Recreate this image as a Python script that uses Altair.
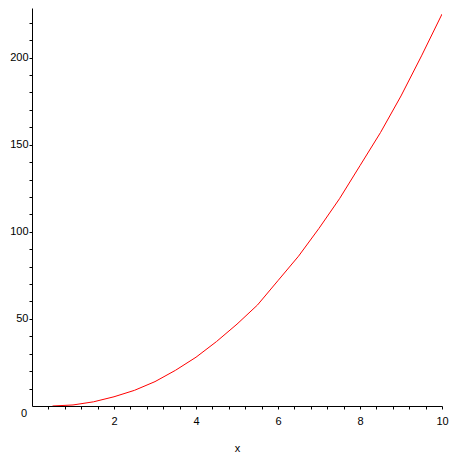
import altair as alt
import pandas as pd

# curve values
xs = [0.5, 1.0, 1.5, 2.0, 2.5, 3.0, 3.5, 4.0, 4.5, 5.0, 5.5, 6.0, 6.5, 7.0, 7.5, 8.0, 8.5, 9.0, 9.5, 10.0]
ys = [0.0, 0.6, 2.4, 5.3, 9.0, 14.0, 20.5, 28.0, 37.0, 47.0, 58.0, 72.0, 86.0, 102.0, 119.0, 138.0, 157.0, 178.0, 201.0, 225.0]

x_ticks = [round(i * 0.4, 1) for i in range(1, 26)]
y_ticks = list(range(10, 230, 10))
origin_label = ["0"]

df = pd.DataFrame({"x": xs, "y": ys})
df0 = pd.DataFrame({"x": [0.0], "y": [0.0], "t": origin_label})

FONT = "Liberation Sans"

xscale = alt.Scale(domain=[0, 10], nice=False, zero=False)
yscale = alt.Scale(domain=[0, 228.5], nice=False, zero=False)

line = alt.Chart(df).mark_line(color="#ff0000", strokeWidth=1, clip=True).encode(
    x=alt.X("x:Q", scale=xscale, title="x",
            axis=alt.Axis(values=x_ticks, tickCount=200,
                          labelExpr="abs(datum.value - round(datum.value/2)*2) < 0.01 ? format(datum.value, 'd') : ''",
                          grid=False, tickSize=3, labelPadding=6, titlePadding=16,
                          labelFontSize=11, titleFontSize=11, titleFontWeight="normal",
                          labelFont=FONT, titleFont=FONT, labelColor="black", titleColor="black",
                          domainColor="black", tickColor="black", labelFlush=False,
                          labelOverlap=False)),
    y=alt.Y("y:Q", scale=yscale, title=None,
            axis=alt.Axis(values=y_ticks, tickCount=200,
                          labelExpr="datum.value % 50 == 0 ? format(datum.value, 'd') : ''",
                          grid=False, tickSize=3, labelPadding=1,
                          labelFontSize=11, labelFont=FONT, labelColor="black",
                          domainColor="black", tickColor="black", labelFlush=False,
                          labelOverlap=False)),
)

zero = alt.Chart(df0).mark_text(dx=-8, dy=8, fontSize=11, font=FONT, color="black",
                                align="center", baseline="middle").encode(
    x=alt.X("x:Q", scale=xscale),
    y=alt.Y("y:Q", scale=yscale),
    text="t:N",
)

chart = alt.layer(line, zero).properties(
    width=410, height=398,
    autosize=alt.AutoSizeParams(type="none"),
    padding={"left": 24, "top": 0, "right": 10, "bottom": 46},
).configure_view(stroke=None)

chart.save("out.html", embed_options={"renderer": "svg", "actions": False})
